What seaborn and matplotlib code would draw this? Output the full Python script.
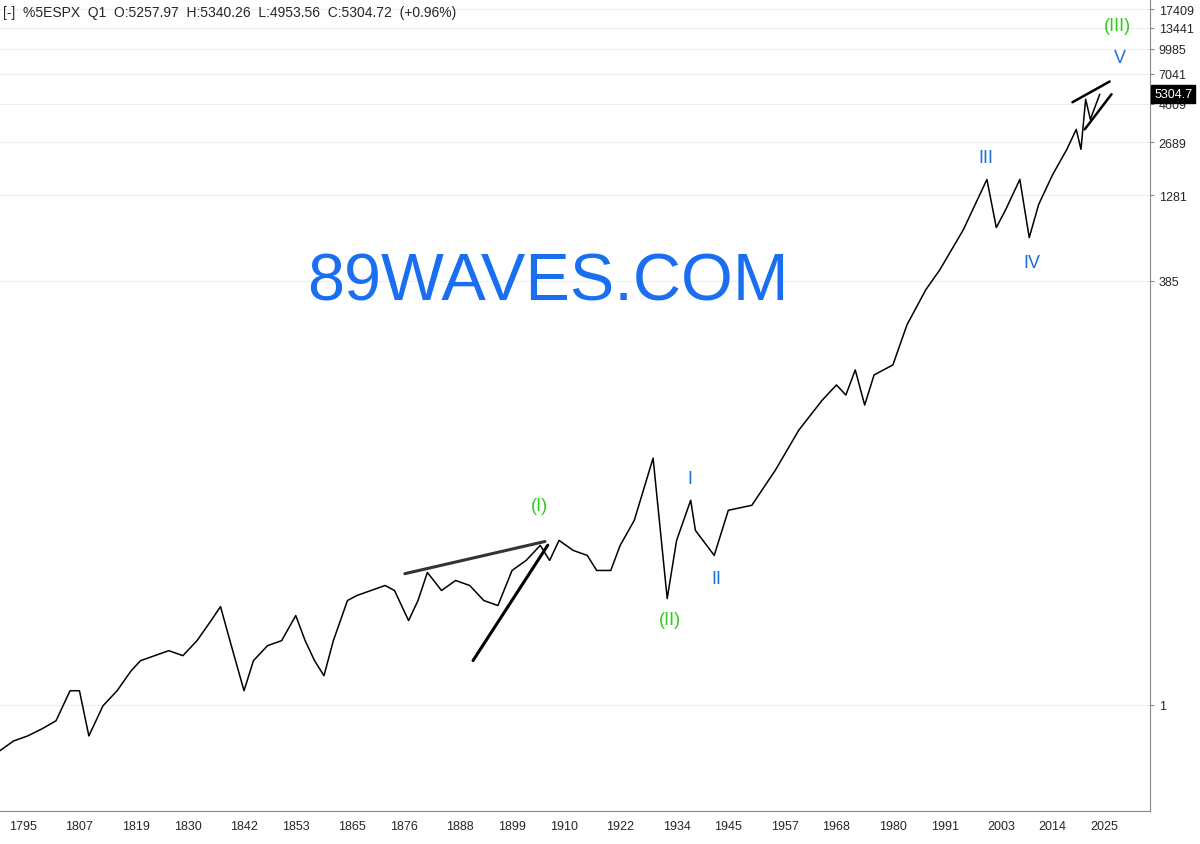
import matplotlib
matplotlib.use("Agg")
import matplotlib.pyplot as plt
import seaborn as sns
import pandas as pd
import numpy as np

years = [1790,1793,1796,1799,1802,1805,1807,1809,1812,1815,1818,1820,1823,1826,1829,1832,1835,1837,1839,1842,
         1844,1847,1850,1853,1855,1857,1859,1861,1864,1866,1869,1872,1874,1877,1879,1881,1884,1887,1890,1893,
         1896,1899,1902,1905,1907,1909,1912,1915,1917,1920,1922,1925,1929,1932,1934,1937,1938,1942,1945,1950,
         1955,1960,1965,1968,1970,1972,1974,1976,1980,1983,1987,1990,1995,2000,2002,2004,2007,2009,2011,2014,
         2017,2019,2020,2021,2022,2024]
ypix = [750,740,735,728,720,690,690,735,705,690,670,660,655,650,655,640,620,606,640,690,
        660,645,640,615,640,660,675,640,600,595,590,585,590,620,600,572,590,580,585,600,
        605,570,560,545,560,540,550,555,570,570,545,520,458,598,540,500,530,555,510,505,
        470,430,400,385,395,370,405,375,365,325,290,270,230,180,228,210,180,238,205,175,
        150,130,150,100,120,95]
values = [round(10 ** ((704 - p) / 163.6), 3) for p in ypix]

yticks = [1, 385, 1281, 2689, 4609, 7041, 9985, 13441, 17409]
xticks = [1795,1807,1819,1830,1842,1853,1865,1876,1888,1899,1910,1922,1934,1945,1957,1968,1980,1991,2003,2014,2025]

df = pd.DataFrame({"year": years, "value": values})

sns.set_style("white")
plt.rcParams['font.family'] = ['Liberation Sans', 'DejaVu Sans']
fig = plt.figure(figsize=(12, 8.45), dpi=100)
ax = fig.add_axes([0.0, 0.039, 0.958, 0.961])
sns.lineplot(data=df, x="year", y="value", color="black", linewidth=1.1, ax=ax)
ax.set_yscale("log")
ax.set_xlim(1790.1, 2034.6)
ax.set_ylim(0.225, 20100)
ax.yaxis.tick_right()
ax.set_yticks(yticks)
ax.set_yticklabels([str(t) for t in yticks], fontsize=9)
ax.yaxis.set_minor_locator(matplotlib.ticker.NullLocator())
ax.set_xticks(xticks)
ax.set_xticklabels([str(t) for t in xticks], fontsize=9)
ax.tick_params(length=3, color="#888")
ax.set_xlabel(""); ax.set_ylabel("")
ax.grid(axis="y", color="#eeeeee", linewidth=0.8)
for s in ["left", "top"]:
    ax.spines[s].set_visible(False)
for s in ["right", "bottom"]:
    ax.spines[s].set_color("#888")

for (x0, y0, x1, y1) in [(1876.2, 6.3, 1906.0, 9.9), (1890.7, 1.86, 1906.6, 9.4),
                         (2018.2, 4720, 2026.1, 6310), (2020.8, 3225, 2026.5, 5280)]:
    ax.plot([x0, x1], [y0, y1], color="black", lw=2.2 if x0 < 2000 else 1.8)
ax.lines[-4].set_color("#333")

green = "#2ecc1a"; blue = "#1a6fdc"
for t, x, y, c in [("(I)", 1904.9, 16.5, green), ("(II)", 1932.5, 3.3, green), ("(III)", 2027.8, 13800, green),
                   ("I", 1936.8, 24, blue), ("II", 1942.5, 5.9, blue), ("III", 1999.7, 2175, blue),
                   ("IV", 2009.5, 497, blue), ("V", 2028.2, 8900, blue)]:
    ax.text(x, y, t, color=c, fontsize=13, ha="center", va="center")
ax.text(1906.6, 374, "89WAVES.COM", color="#1a6ff0", fontsize=48, ha="center", va="center")

ax.text(0.003, 0.992, "[-]  %5ESPX  Q1  O:5257.97  H:5340.26  L:4953.56  C:5304.72  (+0.96%)",
        transform=ax.transAxes, fontsize=10, va="top", ha="left")
ax.text(1.004, 10 ** 3.7247, "5304.7", transform=ax.get_yaxis_transform(), fontsize=9,
        color="white", va="center", ha="left",
        bbox=dict(boxstyle="square,pad=0.25", fc="black", ec="black"))

fig.savefig("out.png", dpi=100)
